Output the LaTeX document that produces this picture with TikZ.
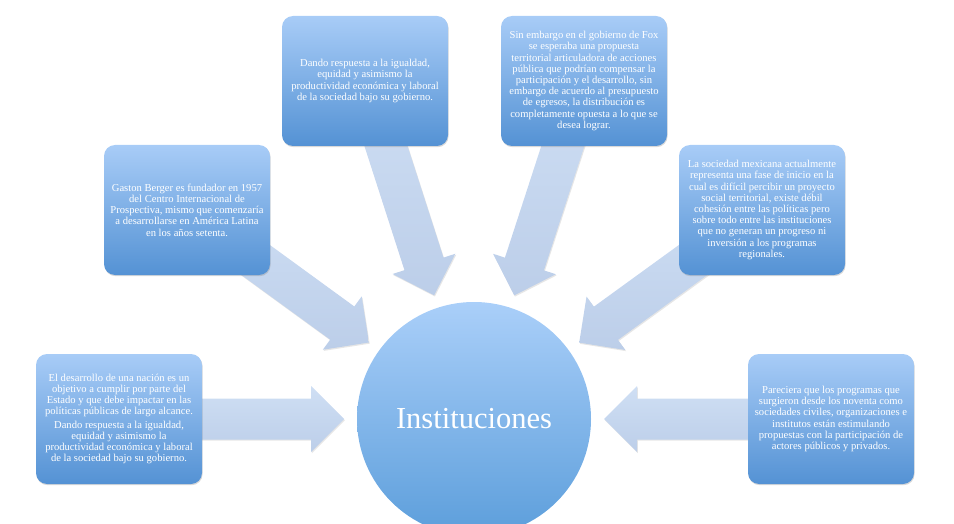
\documentclass[tikz,border=0pt]{standalone}
\usepackage{fontspec}
\setmainfont{Liberation Serif}
\usetikzlibrary{calc, shadows, backgrounds}
\definecolor{boxtop}{RGB}{168,204,247}
\definecolor{boxbottom}{RGB}{84,146,212}
\definecolor{hubtop}{RGB}{170,207,249}
\definecolor{hubbottom}{RGB}{92,158,219}
\definecolor{feedtop}{RGB}{207,223,244}
\definecolor{feedbottom}{RGB}{188,206,233}

% block arrow from a box towards the hub
\newcommand{\feedarrow}[2]{%
  \coordinate (fa-tip) at ($(#2.center)!130pt!(#1.center)$);
  \coordinate (fa-base) at ($(fa-tip)!33pt!(#1.center)$);
  \path[feed] ($(#1.center)!20.5pt!90:(fa-tip)$) -- ($(fa-base)!20.5pt!90:(fa-tip)$)
    -- ($(fa-base)!33pt!90:(fa-tip)$) -- (fa-tip) -- ($(fa-base)!33pt!-90:(fa-tip)$)
    -- ($(fa-base)!20.5pt!-90:(fa-tip)$) -- ($(#1.center)!20.5pt!-90:(fa-tip)$) -- cycle;
}

\begin{document}
\begin{tikzpicture}[x=1pt, y=-1pt,
    infobox/.style={rectangle, rounded corners=11pt, minimum width=166pt, minimum height=130pt, align=center, text=white, top color=boxtop, bottom color=boxbottom, font=\fontsize{10.6}{11.2}\selectfont, drop shadow={opacity=0.3, shadow xshift=0.6pt, shadow yshift=-1.2pt}},
    hub/.style={circle, minimum size=234pt, inner sep=0pt, top color=hubtop, bottom color=hubbottom, text=white, font=\fontsize{30.5}{34}\selectfont},
    feed/.style={top color=feedtop, bottom color=feedbottom, drop shadow={opacity=0.2, shadow xshift=0.8pt, shadow yshift=-1.2pt}}
]
\useasboundingbox (0,0) rectangle (954,524);
\clip (0,0) rectangle (954,524);
\node[hub] (inst) at (474,419) {Instituciones};
\node[infobox] (desarrollo) at (119,419) {El desarrollo de una nación es un\\objetivo a cumplir por parte del\\Estado y que debe impactar en las\\políticas públicas de largo alcance.\\[2pt]Dando respuesta a la igualdad,\\equidad y asimismo la\\productividad económica y laboral\\de la sociedad bajo su gobierno.};
\node[infobox] (berger) at (187,210) {Gaston Berger es fundador en 1957\\del Centro Internacional de\\Prospectiva, mismo que comenzaría\\a desarrollarse en América Latina\\en los años setenta.};
\node[infobox] (igualdad) at (365,81) {Dando respuesta a la igualdad,\\equidad y asimismo la\\productividad económica y laboral\\de la sociedad bajo su gobierno.};
\node[infobox] (fox) at (584,81) {Sin embargo en el gobierno de Fox\\se esperaba una propuesta\\territorial articuladora de acciones\\pública que podrían compensar la\\participación y el desarrollo, sin\\embargo de acuerdo al presupuesto\\de egresos, la distribución es\\completamente opuesta a lo que se\\desea lograr.};
\node[infobox] (sociedad) at (762,210) {La sociedad mexicana actualmente\\representa una fase de inicio en la\\cual es difícil percibir un proyecto\\social territorial, existe débil\\cohesión entre las políticas pero\\sobre todo entre las instituciones\\que no generan un progreso ni\\inversión a los programas\\regionales.};
\node[infobox] (programas) at (831,419) {Pareciera que los programas que\\surgieron desde los noventa como\\sociedades civiles, organizaciones e\\institutos están estimulando\\propuestas con la participación de\\actores públicos y privados.};
\begin{scope}[on background layer]
\feedarrow{desarrollo}{inst}
\feedarrow{berger}{inst}
\feedarrow{igualdad}{inst}
\feedarrow{fox}{inst}
\feedarrow{sociedad}{inst}
\feedarrow{programas}{inst}
\end{scope}
\end{tikzpicture}
\end{document}
